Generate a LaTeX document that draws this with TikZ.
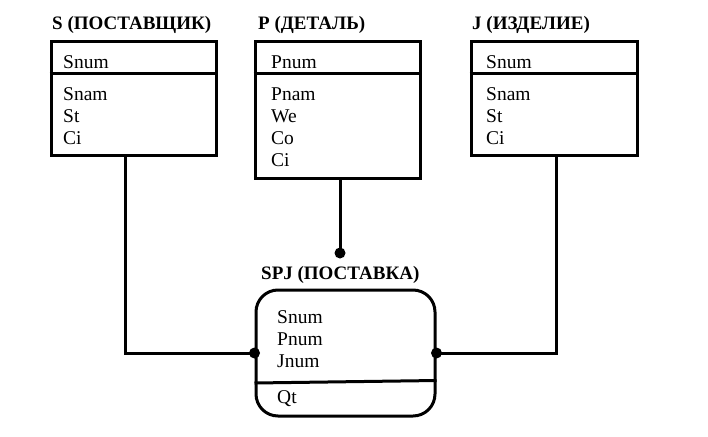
\documentclass[tikz,border=0pt]{standalone}
\usepackage{fontspec}
\setmainfont{Liberation Serif}
\begin{document}
\begin{tikzpicture}[x=1pt,y=-1pt,
  entbox/.style={draw,line width=3pt,inner sep=0pt},
  attr/.style={anchor=base west,inner sep=0pt,font=\fontsize{19.5}{22}\selectfont},
  title/.style={anchor=base west,inner sep=0pt,font=\fontsize{19}{22}\selectfont\bfseries},
  link/.style={line width=3pt},
  dot/.style={circle,fill,inner sep=0pt,minimum size=11pt}]
  \useasboundingbox (0,0) rectangle (708,436);
  % entities
  \node [entbox,minimum width=165pt,minimum height=113pt] (S) at (133.5,98.5) {};
  \node [entbox,minimum width=165pt,minimum height=136pt] (P) at (337.5,110) {};
  \node [entbox,minimum width=166pt,minimum height=113pt] (J) at (554,98.5) {};
  \node [entbox,rounded corners=22pt,minimum width=179pt,minimum height=126pt] (SPJ) at (345.5,353) {};
  \node [title] (tS) at (52,30) {S (ПОСТАВЩИК)};
  \node [title] (tP) at (258,30) {P (ДЕТАЛЬ)};
  \node [title] (tJ) at (472,30) {J (ИЗДЕЛИЕ)};
  \node [title] (tSPJ) at (261,279) {SPJ (ПОСТАВКА)};
  % key dividers
  \draw [link] (S.west |- 0,73) -- (S.east |- 0,73);
  \draw [link] (P.west |- 0,73) -- (P.east |- 0,73);
  \draw [link] (J.west |- 0,73) -- (J.east |- 0,73);
  \draw [link] (SPJ.west |- 0,383) -- (SPJ.east |- 0,380.5);
  % attributes
  \node [attr] (sKey) at (63,68) {Snum};
  \foreach \t [count=\i] in {Snam,St,Ci}
    \node [attr] (s\i) at (63,78+22*\i) {\t};
  \node [attr] (pKey) at (271,68) {Pnum};
  \foreach \t [count=\i] in {Pnam,We,Co,Ci}
    \node [attr] (p\i) at (271,78+22*\i) {\t};
  \node [attr] (jKey) at (486,68) {Snum};
  \foreach \t [count=\i] in {Snam,St,Ci}
    \node [attr] (j\i) at (486,78+22*\i) {\t};
  \foreach \t [count=\i] in {Snum,Pnum,Jnum}
    \node [attr] (spj\i) at (277,301+22*\i) {\t};
  \node [attr] (qt) at (277,403) {Qt};
  % links
  \coordinate (dS) at (SPJ.west);
  \coordinate (dJ) at (SPJ.east);
  \coordinate (dP) at (340,253);
  \draw [link] (S.south -| 125,0) |- (dS);
  \draw [link] (J.south -| 556,0) |- (dJ);
  \draw [link] (P.south -| 340,0) -- (dP);
  \node [dot] at (dS) {};
  \node [dot] at (dJ) {};
  \node [dot] at (dP) {};
\end{tikzpicture}
\end{document}
